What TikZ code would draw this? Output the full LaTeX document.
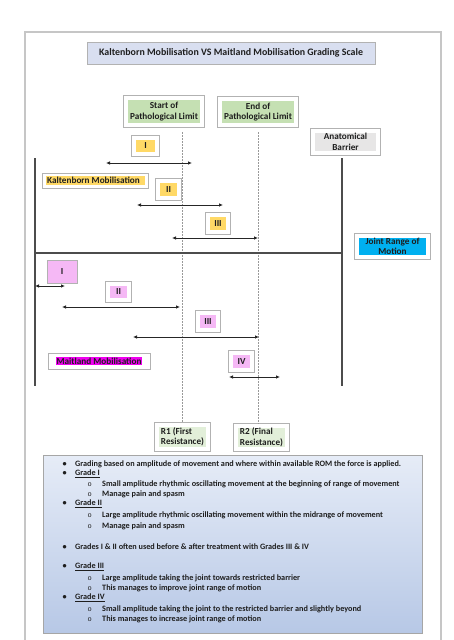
\documentclass[tikz,border=0pt]{standalone}
\usepackage{fontspec}
\setmainfont{Carlito}
\newfontfamily\monof{Liberation Mono}
\usetikzlibrary{arrows.meta}
\definecolor{txt}{HTML}{1E1E1E}
\definecolor{kyel}{HTML}{FFD966}
\definecolor{grn}{HTML}{C5E0B3}
\definecolor{pgrn}{HTML}{E2EFD9}
\definecolor{agray}{HTML}{E7E6E6}
\definecolor{rblue}{HTML}{00B0F0}
\definecolor{mpink}{HTML}{F5B8F5}
\definecolor{mag}{HTML}{F000F0}
\definecolor{ttl}{HTML}{D9DFF0}
\definecolor{gtop}{HTML}{E6ECF7}
\definecolor{gbot}{HTML}{B7C8E6}
\begin{document}
\begin{tikzpicture}[x=1pt,y=-1pt,
  lfont/.style={font=\bfseries\fontsize{9.2}{10.5}\selectfont},
  wbox/.style={preaction={draw=gray!60, line width=6pt}, draw=white, line width=4pt,
    fill=#1, inner sep=0pt, align=center, text=txt, lfont},
  pbox/.style={draw=gray!60, line width=0.8pt, fill=#1, inner sep=0pt, text=txt, lfont},
  lbox/.style={draw=gray!60, line width=0.8pt, fill=white, inner xsep=4pt, inner ysep=2pt,
    text=txt, lfont},
  arr/.style={{Latex[length=4pt,width=3.6pt]}-{Latex[length=4pt,width=3.6pt]}, line width=0.9pt, black!85},
  rom/.style={line width=1.4pt, black!70},
  dline/.style={gray!80, line width=0.7pt, dash pattern=on 1.5pt off 1.5pt},
  bl/.style={anchor=west, inner sep=0pt, text=txt, font=\bfseries\fontsize{8.2}{9}\selectfont},
]
\useasboundingbox (0,0) rectangle (453,640);
\setlength{\fboxsep}{1pt}
% outer frame
\draw[gray!45, line width=1.5pt] (25,642) -- (25,32) -- (441,32) -- (441,642);
% title
\node[draw=gray!60, line width=0.8pt, fill=ttl, minimum width=288, minimum height=22, inner sep=0pt,
  text=txt, font=\bfseries\fontsize{9.9}{11}\selectfont] (title) at (231,53)
  {Kaltenborn Mobilisation VS Maitland Mobilisation Grading Scale};
% limits
\node[wbox=grn, minimum width=76, minimum height=27] (start) at (164,111.5) {Start of\\Pathological Limit};
\node[wbox=grn, minimum width=76, minimum height=26] (endb) at (258,112) {End of\\Pathological Limit};
\node[wbox=agray, minimum width=65, minimum height=22] (anat) at (345.5,142) {Anatomical\\Barrier};
\node[wbox=rblue, minimum width=71, minimum height=21] (jrom) at (392.5,246.5) {Joint Range of\\Motion};
% R boxes
\node[wbox=pgrn, minimum width=51, minimum height=24, align=left] (R1) at (182.5,437) {R1 (First\\Resistance)};
\node[wbox=pgrn, minimum width=51, minimum height=23, align=left] (R2) at (261.5,437.5) {R2 (Final\\Resistance)};
% dashed lines
\draw[dline] (R1.north |- start.south) ++(0,5) -- (R1.north);
\draw[dline] (endb.south) ++(0,5) -- (endb.south |- R2.north);
% range of motion lines
\coordinate (LT) at (35,158);
\coordinate (LB) at (35,386);
\coordinate (RT) at (342,158);
\coordinate (RB) at (342,386);
\coordinate (ML) at (35,253);
\coordinate (MR) at (342,253);
\draw[rom] (LT) -- (LB);
\draw[rom] (RT) -- (RB);
\draw[rom] (ML) -- (MR);
% Kaltenborn
\node[wbox=kyel, minimum width=23, minimum height=16] (k1) at (145.5,146) {I};
\node[wbox=kyel, minimum width=21, minimum height=17] (k2) at (168.5,189.5) {II};
\node[wbox=kyel, minimum width=20, minimum height=17] (k3) at (218,223.5) {III};
\node[lbox, minimum width=106, minimum height=15] (klab) at (95.5,180.5) {\colorbox{kyel}{Kaltenborn Mobilisation\hspace{4pt}}};
\coordinate (k1a) at (106,163); \coordinate (k1b) at (192,163);
\coordinate (k2a) at (137,205); \coordinate (k2b) at (223,205);
\coordinate (k3a) at (172,238); \coordinate (k3b) at (258,238);
\draw[arr] (k1a) -- (k1b);
\draw[arr] (k2a) -- (k2b);
\draw[arr] (k3a) -- (k3b);
% Maitland
\node[pbox=mpink, minimum width=30, minimum height=23] (m1) at (62,271.5) {I};
\node[wbox=mpink, minimum width=21, minimum height=16] (m2) at (118.5,292) {II};
\node[wbox=mpink, minimum width=20, minimum height=17] (m3) at (208,321.5) {III};
\node[wbox=mpink, minimum width=21, minimum height=17] (m4) at (241.5,361.5) {IV};
\node[lbox, minimum width=102, minimum height=16] (mlab) at (99,361) {\colorbox{mag}{Maitland Mobilisation}\hspace{6pt}};
\coordinate (m1a) at (35,286); \coordinate (m1b) at (65,286);
\coordinate (m2a) at (62,307); \coordinate (m2b) at (180,307);
\coordinate (m3a) at (133,337); \coordinate (m3b) at (259,337);
\coordinate (m4a) at (229,377); \coordinate (m4b) at (280,377);
\draw[arr] (m1a) -- (m1b);
\draw[arr] (m2a) -- (m2b);
\draw[arr] (m3a) -- (m3b);
\draw[arr] (m4a) -- (m4b);
% bottom text box
\node[draw=gray!70, line width=0.8pt, top color=gtop, bottom color=gbot, minimum width=379, minimum height=178, inner sep=0pt] (info) at (232.5,544) {};
\newcommand{\bb}{\makebox[13pt][l]{\hspace{0.3pt}•}}
\newcommand{\sbb}{\makebox[14.5pt][l]{{\monof\fontseries{m}\selectfont\fontsize{7}{8}\selectfont o}}}
\node[bl] (t1) at (62,464) {\bb Grading based on amplitude of movement and where within available ROM the force is applied.};
\node[bl] (t2) at (62,474) {\bb\underline{Grade I}};
\node[bl] (t3) at (87.5,484) {\sbb Small amplitude rhythmic oscillating movement at the beginning of range of movement};
\node[bl] (t4) at (87.5,494) {\sbb Manage pain and spasm};
\node[bl] (t5) at (62,504) {\bb\underline{Grade II}};
\node[bl] (t6) at (87.5,515) {\sbb Large amplitude rhythmic oscillating movement within the midrange of movement};
\node[bl] (t7) at (87.5,526) {\sbb Manage pain and spasm};
\node[bl] (t8) at (62,547) {\bb Grades I \& II often used before \& after treatment with Grades III \& IV};
\node[bl] (t9) at (62,567) {\bb\underline{Grade III}};
\node[bl] (t10) at (87.5,578) {\sbb Large amplitude taking the joint towards restricted barrier};
\node[bl] (t11) at (87.5,588) {\sbb This manages to improve joint range of motion};
\node[bl] (t12) at (62,598) {\bb\underline{Grade IV}};
\node[bl] (t13) at (87.5,609) {\sbb Small amplitude taking the joint to the restricted barrier and slightly beyond};
\node[bl] (t14) at (87.5,619) {\sbb This manages to increase joint range of motion};
\end{tikzpicture}
\end{document}
